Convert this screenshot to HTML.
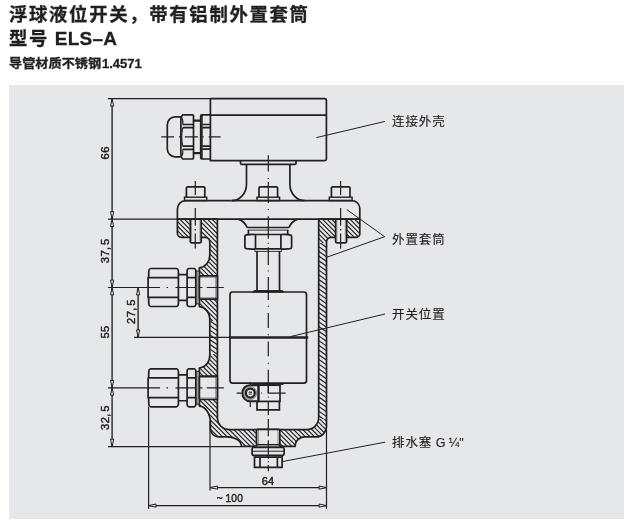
<!DOCTYPE html>
<html lang="zh-CN">
<head>
<meta charset="utf-8">
<title>ELS-A</title>
<style>
html,body{margin:0;padding:0;background:#fff;}
body{width:634px;height:532px;position:relative;overflow:hidden;font-family:"Liberation Sans","Noto Sans CJK SC",sans-serif;color:#231f20;}
.t{position:absolute;left:9px;white-space:nowrap;font-weight:bold;line-height:1;will-change:transform;-webkit-text-stroke:0.3px #231f20;transform-origin:0 0;}
.t span{display:inline-block;transform-origin:0 100%;}
#t1{top:5.7px;font-size:18.4px;letter-spacing:1.65px;}
#t2{top:29.1px;font-size:18.4px;letter-spacing:1.65px;word-spacing:-1.2px;}
#t2 span{letter-spacing:0.3px;font-size:19px;}
#t3{top:57.7px;font-size:12.2px;letter-spacing:0;transform:scaleX(1.08);}
#t3 span{letter-spacing:0;font-size:12.6px;margin-left:0.3px;transform:scaleX(0.96);}
#panel{position:absolute;left:9px;top:85px;width:615px;height:434px;background:#e6e7e8;}
.lb{will-change:transform;position:absolute;left:392.1px;white-space:nowrap;font-size:12.5px;letter-spacing:0.9px;-webkit-text-stroke:0.15px #231f20;line-height:1;color:#231f20;}
svg{position:absolute;left:0;top:0;font-family:"Liberation Sans",sans-serif;will-change:transform;}
</style>
</head>
<body>
<div class="t" id="t1">浮球液位开关，带有铝制外置套筒</div>
<div class="t" id="t2">型号 <span>ELS–A</span></div>
<div class="t" id="t3">导管材质不锈钢<span>1.4571</span></div>
<div id="panel"></div>
<svg width="634" height="532" viewBox="0 0 634 532">
<defs><clipPath id="cb"><path d="M177.4,219.1 V233.3 A4,4 0 0 0 181.4,237.3 H205.3 A4.5,4.8 0 0 1 209.8,242.3 V255.3 A11.3,12.5 0 0 1 199.4,267.8 V306.6 A11.3,12.5 0 0 1 209.8,319.1 V355.5 A11.3,12.5 0 0 1 199.4,368 V406.2 A11.4,16.4 0 0 1 210.4,422.6 V428.4 A8.2,8.4 0 0 0 218.6,436.8 H227.5 A14,9.6 0 0 1 241.5,446.4 H295 A9.5,9.5 0 0 1 304.5,436.9 H316.2 A10.3,10.6 0 0 0 326.5,426.3 V242.1 A4.5,4.6 0 0 1 331,237.3 H356.2 A3.6,3.6 0 0 0 359.8,233.7 V219.1 H318.7 V417.6 A12,12 0 0 1 306.7,429.6 H229.3 A11.5,12 0 0 1 217.4,417.6 V219.1 Z"/></clipPath><clipPath id="cw"><rect x="318.7" y="243" width="7.800000000000011" height="176"/><rect x="209.8" y="321" width="7.599999999999994" height="33"/></clipPath></defs>
<g clip-path="url(#cb)"><path d="M170,30.00 L365,225.00 M170,34.60 L365,229.60 M170,39.20 L365,234.20 M170,43.80 L365,238.80 M170,48.40 L365,243.40 M170,53.00 L365,248.00 M170,57.60 L365,252.60 M170,62.20 L365,257.20 M170,66.80 L365,261.80 M170,71.40 L365,266.40 M170,76.00 L365,271.00 M170,80.60 L365,275.60 M170,85.20 L365,280.20 M170,89.80 L365,284.80 M170,94.40 L365,289.40 M170,99.00 L365,294.00 M170,103.60 L365,298.60 M170,108.20 L365,303.20 M170,112.80 L365,307.80 M170,117.40 L365,312.40 M170,122.00 L365,317.00 M170,126.60 L365,321.60 M170,131.20 L365,326.20 M170,135.80 L365,330.80 M170,140.40 L365,335.40 M170,145.00 L365,340.00 M170,149.60 L365,344.60 M170,154.20 L365,349.20 M170,158.80 L365,353.80 M170,163.40 L365,358.40 M170,168.00 L365,363.00 M170,172.60 L365,367.60 M170,177.20 L365,372.20 M170,181.80 L365,376.80 M170,186.40 L365,381.40 M170,191.00 L365,386.00 M170,195.60 L365,390.60 M170,200.20 L365,395.20 M170,204.80 L365,399.80 M170,209.40 L365,404.40 M170,214.00 L365,409.00 M170,218.60 L365,413.60 M170,223.20 L365,418.20 M170,227.80 L365,422.80 M170,232.40 L365,427.40 M170,237.00 L365,432.00 M170,241.60 L365,436.60 M170,246.20 L365,441.20 M170,250.80 L365,445.80 M170,255.40 L365,450.40 M170,260.00 L365,455.00 M170,264.60 L365,459.60 M170,269.20 L365,464.20 M170,273.80 L365,468.80 M170,278.40 L365,473.40 M170,283.00 L365,478.00 M170,287.60 L365,482.60 M170,292.20 L365,487.20 M170,296.80 L365,491.80 M170,301.40 L365,496.40 M170,306.00 L365,501.00 M170,310.60 L365,505.60 M170,315.20 L365,510.20 M170,319.80 L365,514.80 M170,324.40 L365,519.40 M170,329.00 L365,524.00 M170,333.60 L365,528.60 M170,338.20 L365,533.20 M170,342.80 L365,537.80 M170,347.40 L365,542.40 M170,352.00 L365,547.00 M170,356.60 L365,551.60 M170,361.20 L365,556.20 M170,365.80 L365,560.80 M170,370.40 L365,565.40 M170,375.00 L365,570.00 M170,379.60 L365,574.60 M170,384.20 L365,579.20 M170,388.80 L365,583.80 M170,393.40 L365,588.40 M170,398.00 L365,593.00 M170,402.60 L365,597.60 M170,407.20 L365,602.20 M170,411.80 L365,606.80 M170,416.40 L365,611.40 M170,421.00 L365,616.00 M170,425.60 L365,620.60 M170,430.20 L365,625.20 M170,434.80 L365,629.80 M170,439.40 L365,634.40 M170,444.00 L365,639.00 M170,448.60 L365,643.60" fill="none" stroke="#231f20" stroke-width="1.15"/><g clip-path="url(#cw)"><rect x="170" y="210" width="200" height="250" fill="#e6e7e8"/><path d="M205,143.50 L330,231.00 M205,148.20 L330,235.70 M205,152.90 L330,240.40 M205,157.60 L330,245.10 M205,162.30 L330,249.80 M205,167.00 L330,254.50 M205,171.70 L330,259.20 M205,176.40 L330,263.90 M205,181.10 L330,268.60 M205,185.80 L330,273.30 M205,190.50 L330,278.00 M205,195.20 L330,282.70 M205,199.90 L330,287.40 M205,204.60 L330,292.10 M205,209.30 L330,296.80 M205,214.00 L330,301.50 M205,218.70 L330,306.20 M205,223.40 L330,310.90 M205,228.10 L330,315.60 M205,232.80 L330,320.30 M205,237.50 L330,325.00 M205,242.20 L330,329.70 M205,246.90 L330,334.40 M205,251.60 L330,339.10 M205,256.30 L330,343.80 M205,261.00 L330,348.50 M205,265.70 L330,353.20 M205,270.40 L330,357.90 M205,275.10 L330,362.60 M205,279.80 L330,367.30 M205,284.50 L330,372.00 M205,289.20 L330,376.70 M205,293.90 L330,381.40 M205,298.60 L330,386.10 M205,303.30 L330,390.80 M205,308.00 L330,395.50 M205,312.70 L330,400.20 M205,317.40 L330,404.90 M205,322.10 L330,409.60 M205,326.80 L330,414.30 M205,331.50 L330,419.00 M205,336.20 L330,423.70 M205,340.90 L330,428.40 M205,345.60 L330,433.10 M205,350.30 L330,437.80 M205,355.00 L330,442.50 M205,359.70 L330,447.20 M205,364.40 L330,451.90 M205,369.10 L330,456.60 M205,373.80 L330,461.30 M205,378.50 L330,466.00 M205,383.20 L330,470.70 M205,387.90 L330,475.40 M205,392.60 L330,480.10 M205,397.30 L330,484.80 M205,402.00 L330,489.50" fill="none" stroke="#231f20" stroke-width="1.15"/></g></g>
<path d="M177.4,219.1 V233.3 A4,4 0 0 0 181.4,237.3 H205.3 A4.5,4.8 0 0 1 209.8,242.3 V255.3 A11.3,12.5 0 0 1 199.4,267.8 V306.6 A11.3,12.5 0 0 1 209.8,319.1 V355.5 A11.3,12.5 0 0 1 199.4,368 V406.2 A11.4,16.4 0 0 1 210.4,422.6 V428.4 A8.2,8.4 0 0 0 218.6,436.8 H227.5 A14,9.6 0 0 1 241.5,446.4 H295 A9.5,9.5 0 0 1 304.5,436.9 H316.2 A10.3,10.6 0 0 0 326.5,426.3 V242.1 A4.5,4.6 0 0 1 331,237.3 H356.2 A3.6,3.6 0 0 0 359.8,233.7 V219.1 H318.7 V417.6 A12,12 0 0 1 306.7,429.6 H229.3 A11.5,12 0 0 1 217.4,417.6 V219.1 Z" fill="none" stroke="#231f20" stroke-width="1.7" stroke-linejoin="round"/>
<rect x="190.3" y="219.1" width="10.899999999999977" height="23.5" fill="#e6e7e8" stroke="none"/>
<path d="M190.3,219.1 V241.6 A1.2,1.2 0 0 0 191.5,242.8 H200.0 A1.2,1.2 0 0 0 201.2,241.6 V219.1" fill="none" stroke="#231f20" stroke-width="1.7"/>
<path d="M191.60000000000002,219.1 V241.2 M199.89999999999998,219.1 V241.2" fill="none" stroke="#231f20" stroke-width="0.6" opacity="0.6"/>
<rect x="335.6" y="219.1" width="11.0" height="23.5" fill="#e6e7e8" stroke="none"/>
<path d="M335.6,219.1 V241.6 A1.2,1.2 0 0 0 336.8,242.8 H345.40000000000003 A1.2,1.2 0 0 0 346.6,241.6 V219.1" fill="none" stroke="#231f20" stroke-width="1.7"/>
<path d="M336.90000000000003,219.1 V241.2 M345.3,219.1 V241.2" fill="none" stroke="#231f20" stroke-width="0.6" opacity="0.6"/>
<rect x="199.4" y="275.8" width="18.0" height="23.399999999999977" fill="#e6e7e8" stroke="none"/>
<path d="M199.4,275.8 H217.4 M199.4,299.2 H217.4 M199.4,275.8 V299.2" fill="none" stroke="#231f20" stroke-width="1.7"/>
<path d="M199.4,277.2 H216.4 M199.4,297.8 H216.4 M215.8,275.8 V299.2" fill="none" stroke="#231f20" stroke-width="0.5"/>
<path d="M217.4,275.2 V299.8" fill="none" stroke="#231f20" stroke-width="1.7"/>
<rect x="199.4" y="376.1" width="18.0" height="23.399999999999977" fill="#e6e7e8" stroke="none"/>
<path d="M199.4,376.1 H217.4 M199.4,399.5 H217.4 M199.4,376.1 V399.5" fill="none" stroke="#231f20" stroke-width="1.7"/>
<path d="M199.4,377.5 H216.4 M199.4,398.1 H216.4 M215.8,376.1 V399.5" fill="none" stroke="#231f20" stroke-width="0.5"/>
<path d="M217.4,375.5 V400.1" fill="none" stroke="#231f20" stroke-width="1.7"/>
<rect x="256.5" y="429.4" width="23.30000000000001" height="17.0" fill="#e6e7e8" stroke="none"/>
<path d="M256.5,446.4 V430.7 A1.3,1.3 0 0 1 257.8,429.4 H278.5 A1.3,1.3 0 0 1 279.8,430.7 V446.4" fill="none" stroke="#231f20" stroke-width="1.7"/>
<path d="M258.3,430 V444 M278,430 V444" fill="none" stroke="#231f20" stroke-width="0.5"/>
<path d="M257,444.7 H279.3" fill="none" stroke="#231f20" stroke-width="1.5"/>
<path d="M177.4,219.1 V209 A8.3,8.3 0 0 1 185.7,200.7 H231.6 M304.8,200.7 H352 A7.8,7.8 0 0 1 359.8,208.5 V219.1" fill="none" stroke="#231f20" stroke-width="1.7"/>
<path d="M231.6,200.7 H304.8" fill="none" stroke="#231f20" stroke-width="1.7"/>
<path d="M177.4,219.1 H359.8" fill="none" stroke="#231f20" stroke-width="1.7"/>
<path d="M231.6,200.7 A14.9,16.5 0 0 0 246.5,184.2 V164.2 M304.8,200.7 A14.9,16.5 0 0 1 289.9,184.2 V164.2" fill="none" stroke="#231f20" stroke-width="1.7"/>
<path d="M240.5,160.6 V163.2 A1.1,1.1 0 0 0 241.6,164.3 H294.9 A1.1,1.1 0 0 0 296,163.2 V160.6" fill="none" stroke="#231f20" stroke-width="1.7"/>
<path d="M210.4,98.7 H324.8 A1.6,1.6 0 0 1 326.4,100.3 V159 A1.6,1.6 0 0 1 324.8,160.6 H210.4 Z" fill="none" stroke="#231f20" stroke-width="1.7" stroke-linejoin="round"/>
<path d="M210.4,115.2 H326.4" fill="none" stroke="#231f20" stroke-width="1.7"/>
<path d="M186.4,197.2 V188 A1.2,1.2 0 0 1 187.6,186.8 H203.6 A1.2,1.2 0 0 1 204.79999999999998,188 V197.2" fill="none" stroke="#231f20" stroke-width="1.7"/>
<rect x="184.5" y="197.2" width="22.2" height="3.4" fill="none" stroke="#231f20" stroke-width="1.4"/>
<path d="M259.0,197.2 V188 A1.2,1.2 0 0 1 260.2,186.8 H276.40000000000003 A1.2,1.2 0 0 1 277.6,188 V197.2" fill="none" stroke="#231f20" stroke-width="1.7"/>
<rect x="257.0" y="197.2" width="22.6" height="3.4" fill="none" stroke="#231f20" stroke-width="1.4"/>
<path d="M331.4,197.2 V188 A1.2,1.2 0 0 1 332.59999999999997,186.8 H348.8 A1.2,1.2 0 0 1 350.0,188 V197.2" fill="none" stroke="#231f20" stroke-width="1.7"/>
<rect x="329.3" y="197.2" width="22.8" height="3.4" fill="none" stroke="#231f20" stroke-width="1.4"/>
<path d="M180.9,116.8 H175 A7.7,8 0 0 0 167.3,124.8 V148.8 A7.7,8 0 0 0 175,156.8 H180.9" fill="none" stroke="#231f20" stroke-width="1.7"/>
<path d="M182.6,114.8 H192.3 A1.2,1.2 0 0 1 193.5,116 V157.8 A1.2,1.2 0 0 1 192.3,159 H182.6 Q180.9,157.5 180.9,154 V119.8 Q180.9,116.3 182.6,114.8 Z" fill="none" stroke="#231f20" stroke-width="1.7"/>
<path d="M182.8,124.5 H193.5 M182.8,127.7 H193.5 M182.8,146.1 H193.5 M182.8,149.3 H193.5" fill="none" stroke="#231f20" stroke-width="1.7"/>
<path d="M181.2,116.5 Q183.6,120 182.8,124.5 M182.8,127.7 Q180.6,136.9 182.8,146.1 M182.8,149.3 Q183.6,153.6 181.2,157.3" fill="none" stroke="#231f20" stroke-width="1.1"/>
<path d="M193.5,120.7 H200.7 M193.5,153.2 H200.7" fill="none" stroke="#231f20" stroke-width="2.2"/>
<path d="M210.4,114.8 H201.9 A1.2,1.2 0 0 0 200.7,116 V157.8 A1.2,1.2 0 0 0 201.9,159 H210.4" fill="none" stroke="#231f20" stroke-width="1.7"/>
<path d="M201.9,115 V158.8" fill="none" stroke="#231f20" stroke-width="1.6"/>
<path d="M202.4,124.5 H210.4 M202.4,127.7 H210.4 M202.4,146.1 H210.4 M202.4,149.1 H210.4" fill="none" stroke="#231f20" stroke-width="1.7"/>
<path d="M161.3,136.9 H174 M179,136.9 H182 M184.8,136.9 H198 M202.3,136.9 H203.6 M208.6,136.9 H220.6" fill="none" stroke="#231f20" stroke-width="1.2"/>
<path d="M150.6,268.5 H176.6 Q178.4,269.0 178.4,271.0 V304.0 Q178.4,306.0 176.6,306.5 H150.6 Q148.8,306.0 148.8,304.0 L148.6,297.4 H148.1 V277.6 H148.6 L148.8,271.0 Q148.8,269.0 150.6,268.5 Z" fill="none" stroke="#231f20" stroke-width="1.7" stroke-linejoin="round"/>
<path d="M148.6,277.6 H178.3 M148.6,297.4 H178.3" fill="none" stroke="#231f20" stroke-width="1.7"/>
<path d="M178.4,274.6 H187.1 M178.4,300.4 H187.1" fill="none" stroke="#231f20" stroke-width="1.6"/>
<path d="M188.7,268.5 H194.2 Q195.8,269.0 195.8,270.7 V304.3 Q195.8,306.0 194.2,306.5 H188.7 Q187.1,306.0 187.1,304.3 V270.7 Q187.1,269.0 188.7,268.5 Z" fill="none" stroke="#231f20" stroke-width="1.7"/>
<path d="M187.1,277.6 H195.8 M187.1,297.4 H195.8" fill="none" stroke="#231f20" stroke-width="1.7"/>
<path d="M195.8,271.1 H199.4 M195.8,303.9 H199.4" fill="none" stroke="#231f20" stroke-width="1"/>
<path d="M197,271.1 V303.9" fill="none" stroke="#231f20" stroke-width="0.8"/>
<path d="M108,287.5 H160 M166.5,287.5 H168 M175.5,287.5 H195.4 M199,287.5 H202.5 M206.7,287.5 H223.8" fill="none" stroke="#231f20" stroke-width="1.2"/>
<path d="M150.6,368.8 H176.6 Q178.4,369.3 178.4,371.3 V404.3 Q178.4,406.3 176.6,406.8 H150.6 Q148.8,406.3 148.8,404.3 L148.6,397.7 H148.1 V377.90000000000003 H148.6 L148.8,371.3 Q148.8,369.3 150.6,368.8 Z" fill="none" stroke="#231f20" stroke-width="1.7" stroke-linejoin="round"/>
<path d="M148.6,377.90000000000003 H178.3 M148.6,397.7 H178.3" fill="none" stroke="#231f20" stroke-width="1.7"/>
<path d="M178.4,374.90000000000003 H187.1 M178.4,400.7 H187.1" fill="none" stroke="#231f20" stroke-width="1.6"/>
<path d="M188.7,368.8 H194.2 Q195.8,369.3 195.8,371.0 V404.6 Q195.8,406.3 194.2,406.8 H188.7 Q187.1,406.3 187.1,404.6 V371.0 Q187.1,369.3 188.7,368.8 Z" fill="none" stroke="#231f20" stroke-width="1.7"/>
<path d="M187.1,377.90000000000003 H195.8 M187.1,397.7 H195.8" fill="none" stroke="#231f20" stroke-width="1.7"/>
<path d="M195.8,371.40000000000003 H199.4 M195.8,404.2 H199.4" fill="none" stroke="#231f20" stroke-width="1"/>
<path d="M197,371.40000000000003 V404.2" fill="none" stroke="#231f20" stroke-width="0.8"/>
<path d="M108,387.8 H160 M166.5,387.8 H168 M175.5,387.8 H195.4 M199,387.8 H202.5 M206.7,387.8 H223.8" fill="none" stroke="#231f20" stroke-width="1.2"/>
<path d="M238.3,219.1 Q245,221.5 247.3,227.8 M297.8,219.1 Q291.2,221.5 288.9,227.8" fill="none" stroke="#231f20" stroke-width="1.7"/>
<path d="M247.2,227.5 H289" fill="none" stroke="#231f20" stroke-width="1.3"/>
<path d="M247.8,230.1 H288.4" fill="none" stroke="#231f20" stroke-width="0.9"/>
<path d="M248.4,230 V234.7 M287.7,230 V234.7" fill="none" stroke="#231f20" stroke-width="1.7"/>
<path d="M246.3,234.9 Q251,233.9 255.5,234.5 H280.9 Q286,233.9 290.2,234.9 Q291.6,235.2 291.6,236.6 V246.9 Q291.6,248.3 290.2,248.6 Q286,249.4 280.9,248.8 H255.5 Q251,249.4 246.3,248.6 Q244.9,248.3 244.9,246.9 V236.6 Q244.9,235.2 246.3,234.9 Z" fill="none" stroke="#231f20" stroke-width="1.7"/>
<path d="M255.5,234.5 V248.8 M280.9,234.5 V248.8" fill="none" stroke="#231f20" stroke-width="1.7"/>
<path d="M254.8,249 V251.4 H281.6 V249" fill="none" stroke="#231f20" stroke-width="0.9"/>
<path d="M257,251.1 V290.5 M279.5,251.1 V290.5" fill="none" stroke="#231f20" stroke-width="1.7"/>
<path d="M252.7,292 L254.2,290.6 H282.2 L283.7,292 Z" fill="#231f20" stroke="#231f20" stroke-width="1"/>
<path d="M232.6,292 H303.9 A2.6,2.6 0 0 1 306.5,294.6 V380.6 A2.6,2.6 0 0 1 303.9,383.2 H232.6 A2.6,2.6 0 0 1 230,380.6 V294.6 A2.6,2.6 0 0 1 232.6,292 Z" fill="none" stroke="#231f20" stroke-width="1.7"/>
<path d="M229,337.5 H308.2" fill="none" stroke="#231f20" stroke-width="2.5"/>
<path d="M252,384.2 H283.5" fill="none" stroke="#231f20" stroke-width="1.4"/>
<rect x="258.5" y="385.2" width="21.5" height="16.2" fill="none" stroke="#231f20" stroke-width="1.7"/>
<path d="M268.3,385 V393.1 H281" fill="none" stroke="#231f20" stroke-width="1.3"/>
<path d="M257,401.4 V409.8 H279.4 V401.4" fill="none" stroke="#231f20" stroke-width="1.7"/>
<path d="M258.5,385.2 H249.8 A7.4,8 0 0 0 249.8,401.2 H258.5 Z" fill="none" stroke="#231f20" stroke-width="2.1"/>
<circle cx="250.3" cy="393.1" r="4.5" fill="none" stroke="#231f20" stroke-width="2.3"/>
<circle cx="250.3" cy="393.1" r="6.4" fill="none" stroke="#231f20" stroke-width="0.7" opacity="0.7"/>
<path d="M248.9,392.9 L249.5,391.6 L250.3,392.9 L251.1,391.6 L251.7,392.9 M248.7,394.1 H251.9" fill="none" stroke="#231f20" stroke-width="0.9"/>
<path d="M236.7,393.1 H241.6 M281.2,393.1 H285.6 M250.3,402 V407 M250.3,382 V384.6 M261,393.1 H261.8" fill="none" stroke="#231f20" stroke-width="1.2"/>
<path d="M253.4,447.5 H282.8 A1.3,1.3 0 0 1 284.1,448.8 V454 A1.3,1.3 0 0 1 282.8,455.3 H253.4 A1.3,1.3 0 0 1 252.1,454 V448.8 A1.3,1.3 0 0 1 253.4,447.5 Z" fill="none" stroke="#231f20" stroke-width="1.7"/>
<path d="M252.1,451.2 H284.1" fill="none" stroke="#231f20" stroke-width="1"/>
<path d="M254.5,457.2 H282.1 V467.4 H254.5 Z M254.5,455.3 V457.2 M282.1,455.3 V457.2" fill="none" stroke="#231f20" stroke-width="1.7"/>
<path d="M260,457.2 V467.4 M277.4,457.2 V467.4" fill="none" stroke="#231f20" stroke-width="1.7"/>
<path d="M268.3,155.3 V171.6 M268.3,178 V179 M268.3,182 V203 M268.3,208.9 V209.9 M268.3,216.3 V238.8 M268.3,242.8 V243.8 M268.3,247.3 V265.1 M268.3,270.4 V271.4 M268.3,276.9 V300 M268.3,305.7 V306.7 M268.3,313 V328 M268.3,334.2 V335.2 M268.3,341.5 V356.2 M268.3,362.8 V363.8 M268.3,369.7 V393.1 M268.3,396.5 V397.5 M268.3,401.6 V415.1 M268.3,419 V436.3 M268.3,440.2 V458.8 M268.3,461.3 V462.3 M268.3,465 V471.2" fill="none" stroke="#231f20" stroke-width="1.2"/>
<path d="M195.3,181 V195 M195.3,208 V225.5 M195.3,229 V230.5 M195.3,233.5 V248.6" fill="none" stroke="#231f20" stroke-width="1.2"/>
<path d="M340.6,181 V195 M340.6,208 V225.5 M340.6,229 V230.5 M340.6,233.5 V248.6" fill="none" stroke="#231f20" stroke-width="1.2"/>
<path d="M112.1,98.7 V446.6 M138.1,287.5 V337.3" fill="none" stroke="#231f20" stroke-width="1.35"/>
<path d="M108,219.1 H177.4" fill="none" stroke="#231f20" stroke-width="1.4"/>
<path d="M108,98.7 H210.4 M108,446.6 H241 M134,337.3 H229" fill="none" stroke="#231f20" stroke-width="1.2"/>
<path d="M148.6,406.5 V508.8 M210,421 V490.6 M326.5,430 V508.8 M210,487.6 H326.5 M148.6,505.6 H326.5" fill="none" stroke="#231f20" stroke-width="1.2"/>
<polygon points="112.1,98.7 110.5,106.10000000000001 113.69999999999999,106.10000000000001" fill="#e6e7e8" stroke="#231f20" stroke-width="1" stroke-linejoin="miter"/>
<polygon points="112.1,219.1 110.5,211.7 113.69999999999999,211.7" fill="#e6e7e8" stroke="#231f20" stroke-width="1" stroke-linejoin="miter"/>
<polygon points="112.1,219.1 110.5,226.5 113.69999999999999,226.5" fill="#e6e7e8" stroke="#231f20" stroke-width="1" stroke-linejoin="miter"/>
<polygon points="112.1,287.5 110.5,280.1 113.69999999999999,280.1" fill="#e6e7e8" stroke="#231f20" stroke-width="1" stroke-linejoin="miter"/>
<polygon points="112.1,287.5 110.5,294.9 113.69999999999999,294.9" fill="#e6e7e8" stroke="#231f20" stroke-width="1" stroke-linejoin="miter"/>
<polygon points="112.1,387.8 110.5,380.40000000000003 113.69999999999999,380.40000000000003" fill="#e6e7e8" stroke="#231f20" stroke-width="1" stroke-linejoin="miter"/>
<polygon points="112.1,387.8 110.5,395.2 113.69999999999999,395.2" fill="#e6e7e8" stroke="#231f20" stroke-width="1" stroke-linejoin="miter"/>
<polygon points="112.1,446.6 110.5,439.20000000000005 113.69999999999999,439.20000000000005" fill="#e6e7e8" stroke="#231f20" stroke-width="1" stroke-linejoin="miter"/>
<polygon points="138.1,287.5 136.5,294.9 139.7,294.9" fill="#e6e7e8" stroke="#231f20" stroke-width="1" stroke-linejoin="miter"/>
<polygon points="138.1,337.3 136.5,329.90000000000003 139.7,329.90000000000003" fill="#e6e7e8" stroke="#231f20" stroke-width="1" stroke-linejoin="miter"/>
<polygon points="210,487.6 217.4,486.0 217.4,489.20000000000005" fill="#e6e7e8" stroke="#231f20" stroke-width="1" stroke-linejoin="miter"/>
<polygon points="326.5,487.6 319.1,486.0 319.1,489.20000000000005" fill="#e6e7e8" stroke="#231f20" stroke-width="1" stroke-linejoin="miter"/>
<polygon points="148.6,505.6 156.0,504.0 156.0,507.20000000000005" fill="#e6e7e8" stroke="#231f20" stroke-width="1" stroke-linejoin="miter"/>
<polygon points="326.5,505.6 319.1,504.0 319.1,507.20000000000005" fill="#e6e7e8" stroke="#231f20" stroke-width="1" stroke-linejoin="miter"/>
<path d="M316.4,137.6 L385,121.4 M346.8,209.6 L384.6,236.7 L326.6,257.3 M290.4,336.6 L385,314 M282.2,461.6 L385,442.2" fill="none" stroke="#231f20" stroke-width="1.0"/>
<text transform="translate(108.8,152.8) rotate(-90) scale(1.0,1)" text-anchor="middle" font-size="11.3" letter-spacing="0.3" fill="#231f20" stroke="#231f20" stroke-width="0.45">66</text>
<text transform="translate(108.8,250.8) rotate(-90) scale(1.0,1)" text-anchor="middle" font-size="11.3" letter-spacing="0.3" fill="#231f20" stroke="#231f20" stroke-width="0.45">37,<tspan dx="1.5">5</tspan></text>
<text transform="translate(108.8,331.9) rotate(-90) scale(1.0,1)" text-anchor="middle" font-size="11.3" letter-spacing="0.3" fill="#231f20" stroke="#231f20" stroke-width="0.45">55</text>
<text transform="translate(135,311.6) rotate(-90) scale(1.0,1)" text-anchor="middle" font-size="11.3" letter-spacing="0.3" fill="#231f20" stroke="#231f20" stroke-width="0.45">27,<tspan dx="1.5">5</tspan></text>
<text transform="translate(108.8,417.6) rotate(-90) scale(1.0,1)" text-anchor="middle" font-size="11.3" letter-spacing="0.3" fill="#231f20" stroke="#231f20" stroke-width="0.45">32,<tspan dx="1.5">5</tspan></text>
<text transform="translate(268,484.9) scale(0.98,1)" text-anchor="middle" font-size="11.3" letter-spacing="0.2" fill="#231f20" stroke="#231f20" stroke-width="0.45">64</text>
<text transform="translate(243,502.3) scale(0.9,1)" text-anchor="end" font-size="11.3" letter-spacing="0.2" fill="#231f20" stroke="#231f20" stroke-width="0.45">~<tspan dx="3">100</tspan></text>
</svg>
<div class="lb" style="top:116.2px">连接外壳</div>
<div class="lb" style="top:233.6px">外置套筒</div>
<div class="lb" style="top:308.6px">开关位置</div>
<div class="lb" style="top:436.7px">排水塞<span style="letter-spacing:0"> G ¼"</span></div>
</body>
</html>
